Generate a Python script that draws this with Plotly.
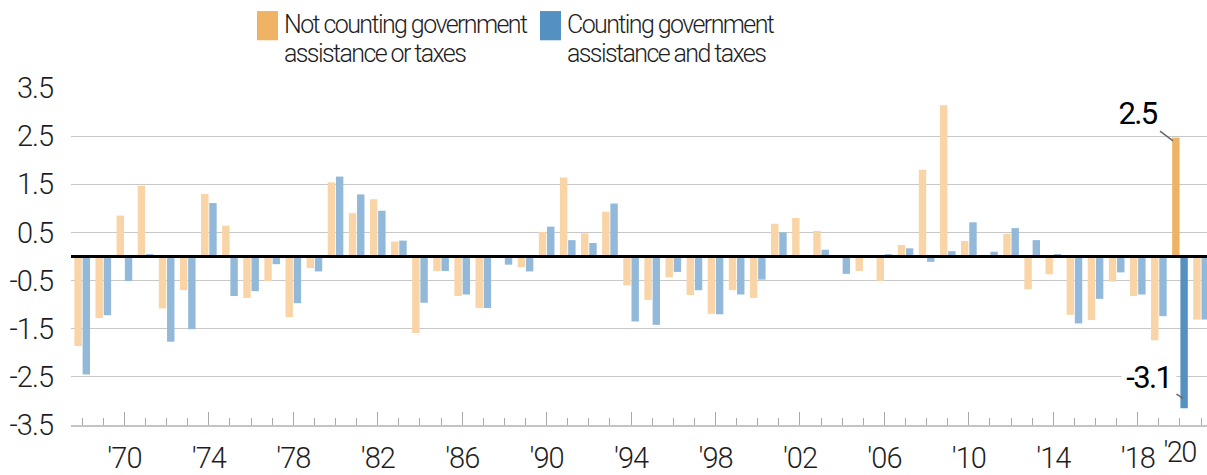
import plotly.graph_objects as go

years = list(range(1968, 2022))

not_counting = [
    -1.86, -1.28, 0.85, 1.47, -1.08, -0.70, 1.30, 0.64, -0.86, -0.51,
    -1.26, -0.24, 1.54, 0.90, 1.19, 0.31, -1.59, -0.30, -0.82, -1.07,
    -0.03, -0.22, 0.51, 1.64, 0.48, 0.93, -0.60, -0.90, -0.43, -0.80,
    -1.19, -0.70, -0.86, 0.68, 0.80, 0.53, 0.00, -0.30, -0.51, 0.24,
    1.80, 3.14, 0.32, 0.00, 0.47, -0.68, -0.37, -1.21, -1.32, -0.52,
    -0.82, -1.74, 2.47, -1.31,
]
counting = [
    -2.45, -1.22, -0.51, 0.05, -1.77, -1.51, 1.11, -0.82, -0.72, -0.16,
    -0.97, -0.31, 1.66, 1.29, 0.95, 0.33, -0.96, -0.30, -0.79, -1.07,
    -0.17, -0.31, 0.62, 0.34, 0.28, 1.10, -1.35, -1.42, -0.32, -0.70,
    -1.20, -0.79, -0.48, 0.50, 0.01, 0.14, -0.36, 0.00, 0.05, 0.17,
    -0.11, 0.11, 0.71, 0.10, 0.59, 0.34, 0.05, -1.39, -0.88, -0.33,
    -0.79, -1.24, -3.15, -1.31,
]

highlight_year = 2020
label_orange = "2.5"
label_blue = "-3.1"

tick_years = [1970, 1974, 1978, 1982, 1986, 1990, 1994, 1998, 2002, 2006, 2010, 2014, 2018]
tick_text = ["'70", "'74", "'78", "'82", "'86", "'90", "'94", "'98", "'02", "'06", "'10", "'14", "'18"]
extra_tick_year = 2020
extra_tick_text = "'20"

y_ticks = [-3.5, -2.5, -1.5, -0.5, 0.5, 1.5, 2.5, 3.5]

series_names = ["Not counting government assistance or taxes",
                "Counting government assistance and taxes"]
legend_lines = [["Not counting government", "assistance or taxes"],
                ["Counting government", "assistance and taxes"]]

ORANGE_LIGHT = "#F9D4A6"
ORANGE_DARK = "#F0B264"
BLUE_LIGHT = "#92B9D9"
BLUE_DARK = "#5491C2"

FONT = "Roboto, Liberation Sans, sans-serif"
TXT = "#1e1e1e"


def fnt(size, color=TXT, weight=300):
    return dict(size=size, family=FONT, color=color, weight=weight)


orange_colors = [ORANGE_DARK if y == highlight_year else ORANGE_LIGHT for y in years]
blue_colors = [BLUE_DARK if y == highlight_year else BLUE_LIGHT for y in years]

fig = go.Figure()
fig.add_trace(go.Bar(x=years, y=not_counting, name=series_names[0],
                     marker=dict(color=orange_colors, line=dict(width=0))))
fig.add_trace(go.Bar(x=years, y=counting, name=series_names[1],
                     marker=dict(color=blue_colors, line=dict(width=0))))

fig.update_layout(
    width=1207, height=475,
    margin=dict(l=71, r=0, t=88, b=41),
    paper_bgcolor="white", plot_bgcolor="white",
    barmode="group", bargap=0.22, bargroupgap=0.1,
    showlegend=False,
    font=fnt(20),
)

fig.update_xaxes(
    range=[1967.47, 2021.28],
    tickvals=tick_years, ticktext=tick_text,
    ticks="inside", ticklen=13, tickwidth=1.3, tickcolor="#a8a8a8",
    minor=dict(dtick=1, tick0=1968, ticks="inside", ticklen=7,
               tickwidth=1.3, tickcolor="#a8a8a8", showgrid=False),
    showline=True, linecolor="#c4c4c4", linewidth=1.5,
    showgrid=False, zeroline=False,
    tickfont=fnt(29),
    ticklabelstandoff=6,
)
fig.update_yaxes(
    range=[-3.5, 3.5],
    tickvals=y_ticks, ticktext=[f"{v:.1f}" for v in y_ticks],
    showgrid=True, gridcolor="#c8c8c8", gridwidth=1.3,
    zeroline=False, showline=False, ticks="",
    tickfont=fnt(29),
    ticklabelstandoff=17,
)

# zero line above bars
fig.add_shape(type="line", xref="paper", yref="y", x0=0, x1=1, y0=0, y1=0,
              line=dict(color="black", width=3), layer="above")

# extra '20 label under axis
fig.add_annotation(x=extra_tick_year, xref="x", y=0, yref="paper",
                   text=extra_tick_text, showarrow=False, yanchor="top",
                   yshift=-8, font=fnt(29))

# value callouts for 2020
hi = years.index(highlight_year)
fig.add_annotation(x=highlight_year - 0.33, y=not_counting[hi] - 0.07,
                   xref="x", yref="y", text=label_orange,
                   showarrow=True, arrowhead=0, arrowwidth=1.5, arrowcolor="#666666",
                   ax=-36, ay=-27, bgcolor="rgba(255,255,255,0)",
                   font=fnt(31, "black", 400))
fig.add_annotation(x=highlight_year + 0.14, y=counting[hi] + 0.21,
                   xref="x", yref="y", text=label_blue,
                   showarrow=True, arrowhead=0, arrowwidth=1.5, arrowcolor="#666666",
                   ax=-34, ay=-21, bgcolor="white",
                   font=fnt(31, "black", 400))

# custom legend (paper coordinates)
PW, PH = 1207 - 71 - 0, 475 - 88 - 41


def px_x(px):
    return (px - 71) / PW


def px_y(py):
    return (475 - 41 - py) / PH


legend_cols = [(257, ORANGE_DARK), (540, BLUE_DARK)]
for (sx, col), lines in zip(legend_cols, legend_lines):
    fig.add_shape(type="rect", xref="paper", yref="paper",
                  x0=px_x(sx), x1=px_x(sx + 21), y0=px_y(39), y1=px_y(9),
                  fillcolor=col, line=dict(width=0))
    for i, ln in enumerate(lines):
        fig.add_annotation(x=px_x(sx + 25), y=px_y(23 + 30 * i), xref="paper", yref="paper",
                           text=ln, showarrow=False, xanchor="left", yanchor="middle",
                           align="left", font=fnt(25))

POST = (
    "document.body.style.margin='0';document.body.style.padding='0';"
    "var s=document.createElement('style');"
    "s.textContent='svg text{letter-spacing:-1px;} .annotation-text{letter-spacing:-1.6px !important;}';"
    "document.head.appendChild(s);"
)

fig.write_html("out.html", post_script=POST, config={"displayModeBar": False})
